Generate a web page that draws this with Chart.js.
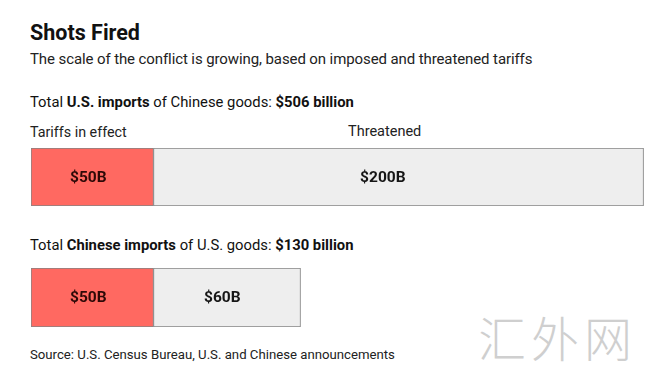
<!DOCTYPE html>
<html><head><meta charset="utf-8">
<script src="https://cdn.jsdelivr.net/npm/chart.js@4"></script>
<style>
html,body{margin:0;padding:0;background:#fff;}
body{width:651px;height:381px;position:relative;overflow:hidden;font-family:Roboto,"Liberation Sans",sans-serif;color:#111;}
.t{position:absolute;white-space:nowrap;line-height:1;}
#title{left:30px;top:22px;font-size:21.5px;font-weight:700;letter-spacing:0;}
#sub{left:30px;top:52px;font-size:15px;letter-spacing:-0.1px;color:#222;}
#h1{left:30px;top:95px;font-size:14.8px;}
#l1{left:30px;top:125px;font-size:14.3px;color:#222;}
#l2{left:348px;top:125px;font-size:14.5px;color:#222;}
#h2{left:30px;top:238px;font-size:14.8px;}
#src{left:30px;top:348px;font-size:13.2px;color:#222;}
#wm{left:478px;top:312px;font-size:48px;color:#cfcfcf;font-family:"Noto Sans CJK SC";font-weight:300;letter-spacing:5px;}
.c{position:absolute;}
#c1w{left:31px;top:148px;width:615px;height:58px;}
#c2w{left:31px;top:268px;width:615px;height:59px;}
</style></head><body>
<div class="t" id="title">Shots Fired</div>
<div class="t" id="sub">The scale of the conflict is growing, based on imposed and threatened tariffs</div>
<div class="t" id="h1">Total <b>U.S. imports</b> of Chinese goods: <b>$506 billion</b></div>
<div class="t" id="l1">Tariffs in effect</div>
<div class="t" id="l2">Threatened</div>
<div class="t" id="h2">Total <b>Chinese imports</b> of U.S. goods: <b>$130 billion</b></div>
<div class="t" id="src">Source: U.S. Census Bureau, U.S. and Chinese announcements</div>
<div class="t" id="wm">汇外网</div>
<div class="c" id="c1w"><canvas id="c1"></canvas></div>
<div class="c" id="c2w"><canvas id="c2"></canvas></div>
<script>
const categories = ["Tariffs in effect", "Threatened"];
const usImportsOfChina = [50, 200];   // $B
const chinaImportsOfUS = [50, 60];    // $B
const valueLabels1 = ["$50B", "$200B"];
const valueLabels2 = ["$50B", "$60B"];
const scaleMax = 251;

const colors = ["#ff6961", "#eeeeee"];

const labelPlugin = {
  id: 'vlabels',
  afterDatasetsDraw(chart) {
    const ctx = chart.ctx;
    const labels = chart.options.plugins.vlabels.labels;
    chart.data.datasets.forEach((ds, i) => {
      const meta = chart.getDatasetMeta(i);
      meta.data.forEach(el => {
        const cx = el.base + (el.x - el.base) * 0.468;
        ctx.save();
        ctx.font = "700 15.5px Roboto, 'Liberation Sans', sans-serif";
        ctx.fillStyle = i === 0 ? "#2e0907" : "#161616";
        ctx.textAlign = "center";
        ctx.textBaseline = "middle";
        ctx.fillText(labels[i], cx, el.y + 1);
        ctx.restore();
      });
    });
  }
};

function makeChart(id, values, labels) {
  return new Chart(document.getElementById(id), {
    type: 'bar',
    data: {
      labels: ['x'],
      datasets: values.map((v, i) => ({
        label: categories[i],
        data: [v],
        backgroundColor: colors[i],
        borderColor: "#858585",
        borderWidth: 1,
        borderSkipped: false,
        categoryPercentage: 1,
        barPercentage: 1
      }))
    },
    options: {
      indexAxis: 'y',
      responsive: true,
      maintainAspectRatio: false,
      animation: false,
      layout: { padding: 0 },
      scales: {
        x: { stacked: true, min: 0, max: scaleMax, display: false },
        y: { stacked: true, display: false }
      },
      plugins: { legend: { display: false }, tooltip: { enabled: false }, vlabels: { labels } }
    },
    plugins: [labelPlugin]
  });
}
makeChart('c1', usImportsOfChina, valueLabels1);
makeChart('c2', chinaImportsOfUS, valueLabels2);
</script>
</body></html>
